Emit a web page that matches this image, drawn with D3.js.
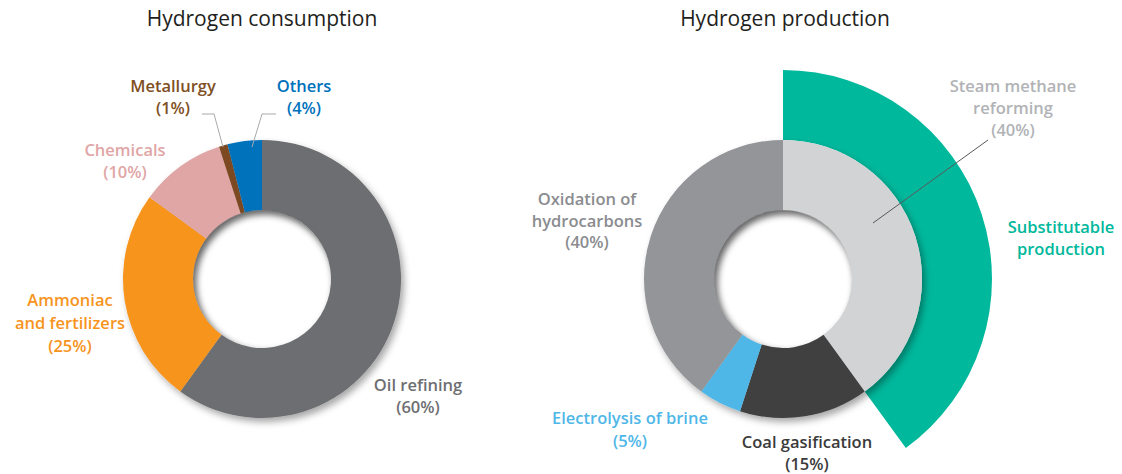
<!DOCTYPE html>
<html>
<head>
<meta charset="utf-8">
<script src="https://cdn.jsdelivr.net/npm/d3@7"></script>
<style>
  html, body { margin: 0; padding: 0; background: #fff; }
  svg { display: block; }
  text { font-family: "Open Sans", "Noto Sans", sans-serif; }
</style>
</head>
<body>
<svg id="chart" width="1122" height="474"></svg>
<script>
// Hydrogen consumption by end use (%)
const consumptionCategories = ["Oil refining", "Ammoniac and fertilizers", "Chemicals", "Metallurgy", "Others"];
const consumptionValues = [60, 25, 10, 1, 4];
const consumptionColors = ["#6d6e71", "#f7941d", "#e0a6a6", "#7b4a22", "#0072bc"];

// Hydrogen production by process (%)
const productionCategories = ["Steam methane reforming", "Coal gasification", "Electrolysis of brine", "Oxidation of hydrocarbons"];
const productionValues = [40, 15, 5, 40];
const productionColors = ["#d1d3d4", "#3f3f40", "#4fb7e8", "#939598"];

// Processes grouped under the outer "substitutable production" band
const substitutable = ["Steam methane reforming"];
const substitutableLabel = ["Substitutable", "production"];
const substitutableColor = "#00b89c";

const titles = ["Hydrogen consumption", "Hydrogen production"];

const svg = d3.select("#chart");
const defs = svg.append("defs");

// soft drop shadow under each ring
const ds = defs.append("filter").attr("id", "dropShadow")
  .attr("x", "-20%").attr("y", "-20%").attr("width", "140%").attr("height", "140%");
ds.append("feDropShadow").attr("dx", 3).attr("dy", 4).attr("stdDeviation", 3.5)
  .attr("flood-color", "#000").attr("flood-opacity", 0.35);

const blur = defs.append("filter").attr("id", "softBlur")
  .attr("x", "-30%").attr("y", "-30%").attr("width", "160%").attr("height", "160%");
blur.append("feGaussianBlur").attr("stdDeviation", 3);

const R = 139, r = 69, Rsub = 209;
const pie = d3.pie().sort(null).value(d => d.value).startAngle(0).endAngle(2 * Math.PI);
const arc = d3.arc().innerRadius(r).outerRadius(R);

function donut(cx, cy, cats, vals, cols, id) {
  const data = cats.map((c, i) => ({ name: c, value: vals[i], color: cols[i] }));
  const arcs = pie(data);
  const g = svg.append("g").attr("transform", `translate(${cx},${cy})`);
  const ring = g.append("g").attr("filter", "url(#dropShadow)");
  ring.selectAll("path").data(arcs).join("path")
    .attr("d", arc).attr("fill", d => d.data.color);

  // shadow cast by the ring into the hole
  defs.append("clipPath").attr("id", "hole" + id)
    .append("circle").attr("cx", 0).attr("cy", 0).attr("r", r);
  g.append("g").attr("clip-path", `url(#hole${id})`)
    .append("circle").attr("cx", 3).attr("cy", 4).attr("r", r + 10)
    .attr("fill", "none").attr("stroke", "#000").attr("stroke-opacity", 0.4)
    .attr("stroke-width", 20).attr("filter", "url(#softBlur)");
  return { g, arcs };
}

function label(x, y, lines, color, opts = {}) {
  const t = svg.append("text")
    .attr("x", x).attr("y", y)
    .attr("text-anchor", "middle")
    .attr("fill", color)
    .attr("font-size", opts.size || 16.5)
    .attr("font-weight", opts.weight || 600);
  lines.forEach((l, i) => {
    t.append("tspan").attr("x", x).attr("dy", i === 0 ? 0 : (opts.lh || 22.5)).text(l);
  });
  return t;
}

function leader(points, color) {
  svg.append("path")
    .attr("d", d3.line()(points))
    .attr("fill", "none").attr("stroke", color).attr("stroke-width", 1);
}

// ---- titles ----
label(262, 26, [titles[0]], "#231f20", { size: 21, weight: 400 });
label(785, 26, [titles[1]], "#231f20", { size: 21, weight: 400 });

// ---- consumption donut ----
const left = donut(262, 279, consumptionCategories, consumptionValues, consumptionColors, "L");
const pct = v => `(${v}%)`;
const lc = consumptionColors;
label(418, 391, ["Oil refining", pct(consumptionValues[0])], "#6d6e71", { lh: 22 });
label(70, 306, ["Ammoniac", "and fertilizers", pct(consumptionValues[1])], lc[1], { lh: 23 });
label(125, 156, ["Chemicals", pct(consumptionValues[2])], lc[2], { lh: 22 });
label(173, 92, ["Metallurgy", pct(consumptionValues[3])], "#7f4f24", { lh: 22 });
label(304, 92, ["Others", pct(consumptionValues[4])], lc[4], { lh: 22 });
leader([[202, 114], [214, 114], [223, 147]], "#a7a9ac");
leader([[276, 114], [262, 114], [252, 147]], "#a7a9ac");

// ---- production: substitutable band then donut ----
const cxR = 783, cyR = 279;
const prodArcs = pie(productionCategories.map((c, i) => ({ name: c, value: productionValues[i] })));
const subArcs = prodArcs.filter(a => substitutable.includes(a.data.name));
const subStart = d3.min(subArcs, a => a.startAngle);
const subEnd = d3.max(subArcs, a => a.endAngle);
svg.append("path")
  .attr("transform", `translate(${cxR},${cyR})`)
  .attr("d", d3.arc().innerRadius(R).outerRadius(Rsub).startAngle(subStart).endAngle(subEnd)())
  .attr("fill", substitutableColor);

const right = donut(cxR, cyR, productionCategories, productionValues, productionColors, "R");

label(1013, 92, ["Steam methane", "reforming", pct(productionValues[0])], "#b1b3b6", { lh: 22 });
leader([[988, 140], [873, 223]], "#58595b");
label(1061, 233, substitutableLabel, substitutableColor, { lh: 22 });
label(587, 205, ["Oxidation of", "hydrocarbons", pct(productionValues[3])], "#8a8c8f", { lh: 21.5 });
label(630, 424, ["Electrolysis of brine", pct(productionValues[2])], productionColors[2], { lh: 22.5 });
label(807, 448, ["Coal gasification", pct(productionValues[1])], "#3a3a3b", { lh: 22 });
</script>
</body>
</html>
